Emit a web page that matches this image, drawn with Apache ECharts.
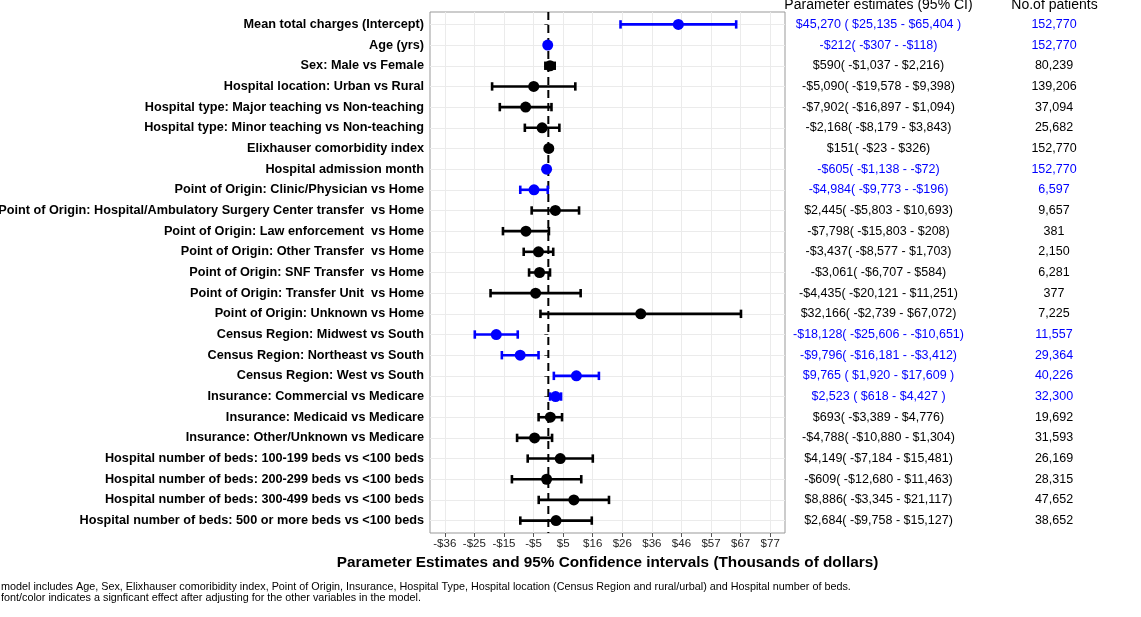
<!DOCTYPE html>
<html>
<head>
<meta charset="utf-8">
<script src="https://cdn.jsdelivr.net/npm/echarts@6/dist/echarts.min.js"></script>
<style>
html,body{margin:0;padding:0;background:#fff;}
#chart{width:1141px;height:617px;}
</style>
</head>
<body>
<div id="chart"></div>
<script>
var categories = [
  "Mean total charges (Intercept)",
  "Age (yrs)",
  "Sex: Male vs Female",
  "Hospital location: Urban vs Rural",
  "Hospital type: Major teaching vs Non-teaching",
  "Hospital type: Minor teaching vs Non-teaching",
  "Elixhauser comorbidity index",
  "Hospital admission month",
  "Point of Origin: Clinic/Physician vs Home",
  "Point of Origin: Hospital/Ambulatory Surgery Center transfer  vs Home",
  "Point of Origin: Law enforcement  vs Home",
  "Point of Origin: Other Transfer  vs Home",
  "Point of Origin: SNF Transfer  vs Home",
  "Point of Origin: Transfer Unit  vs Home",
  "Point of Origin: Unknown vs Home",
  "Census Region: Midwest vs South",
  "Census Region: Northeast vs South",
  "Census Region: West vs South",
  "Insurance: Commercial vs Medicare",
  "Insurance: Medicaid vs Medicare",
  "Insurance: Other/Unknown vs Medicare",
  "Hospital number of beds: 100-199 beds vs <100 beds",
  "Hospital number of beds: 200-299 beds vs <100 beds",
  "Hospital number of beds: 300-499 beds vs <100 beds",
  "Hospital number of beds: 500 or more beds vs <100 beds"
];
// dollars
var estimates = [45270, -212, 590, -5090, -7902, -2168, 151, -605, -4984, 2445, -7798, -3437, -3061, -4435, 32166, -18128, -9796, 9765, 2523, 693, -4788, 4149, -609, 8886, 2684];
var lowerCI = [25135, -307, -1037, -19578, -16897, -8179, -23, -1138, -9773, -5803, -15803, -8577, -6707, -20121, -2739, -25606, -16181, 1920, 618, -3389, -10880, -7184, -12680, -3345, -9758];
var upperCI = [65404, -118, 2216, 9398, 1094, 3843, 326, -72, -196, 10693, 208, 1703, 584, 11251, 67072, -10651, -3412, 17609, 4427, 4776, 1304, 15481, 11463, 21117, 15127];
var patients = [152770, 152770, 80239, 139206, 37094, 25682, 152770, 152770, 6597, 9657, 381, 2150, 6281, 377, 7225, 11557, 29364, 40226, 32300, 19692, 31593, 26169, 28315, 47652, 38652];
var significant = [1, 1, 0, 0, 0, 0, 0, 1, 1, 0, 0, 0, 0, 0, 0, 1, 1, 1, 1, 0, 0, 0, 0, 0, 0];
var ciText = [
  "$45,270 ( $25,135 - $65,404 )",
  "-$212( -$307 - -$118)",
  "$590( -$1,037 - $2,216)",
  "-$5,090( -$19,578 - $9,398)",
  "-$7,902( -$16,897 - $1,094)",
  "-$2,168( -$8,179 - $3,843)",
  "$151( -$23 - $326)",
  "-$605( -$1,138 - -$72)",
  "-$4,984( -$9,773 - -$196)",
  "$2,445( -$5,803 - $10,693)",
  "-$7,798( -$15,803 - $208)",
  "-$3,437( -$8,577 - $1,703)",
  "-$3,061( -$6,707 - $584)",
  "-$4,435( -$20,121 - $11,251)",
  "$32,166( -$2,739 - $67,072)",
  "-$18,128( -$25,606 - -$10,651)",
  "-$9,796( -$16,181 - -$3,412)",
  "$9,765 ( $1,920 - $17,609 )",
  "$2,523 ( $618 - $4,427 )",
  "$693( -$3,389 - $4,776)",
  "-$4,788( -$10,880 - $1,304)",
  "$4,149( -$7,184 - $15,481)",
  "-$609( -$12,680 - $11,463)",
  "$8,886( -$3,345 - $21,117)",
  "$2,684( -$9,758 - $15,127)"
];
// x tick positions (thousands of dollars) and their printed labels
var xTickValues = [-36.05, -25.75, -15.45, -5.15, 5.15, 15.45, 25.75, 36.05, 46.35, 56.65, 66.95, 77.25];
var xTickLabels = ["-$36", "-$25", "-$15", "-$5", "$5", "$16", "$26", "$36", "$46", "$57", "$67", "$77"];
var footnotes = [
  "model includes Age, Sex, Elixhauser comoribidity index, Point of Origin, Insurance, Hospital Type, Hospital location (Census Region and rural/urbal) and Hospital number of beds.",
  "font/color indicates a signficant effect after adjusting for the other variables in the model."
];

var BLUE = '#0000FF';
var FONT = "'Liberation Sans', Arial, Helvetica, sans-serif";
var rows = categories.map(function (_, i) { return i + 1; });
function rowIdx(v) { return Math.round(v) - 1; }
function nearestTick(v) {
  var best = 0, bd = Infinity;
  for (var i = 0; i < xTickValues.length; i++) {
    var d = Math.abs(xTickValues[i] - v);
    if (d < bd) { bd = d; best = i; }
  }
  return xTickLabels[best];
}
function sigColor(v) { return significant[rowIdx(v)] ? BLUE : '#000'; }

var errData = categories.map(function (_, i) {
  return [lowerCI[i] / 1000, upperCI[i] / 1000, i + 1, significant[i]];
});
var pointData = categories.map(function (_, i) {
  return { value: [estimates[i] / 1000, i + 1], itemStyle: { color: significant[i] ? BLUE : '#000', opacity: 1 } };
});

var chart = echarts.init(document.getElementById('chart'), null, { renderer: 'canvas' });
var option = {
  animation: false,
  backgroundColor: '#fff',
  textStyle: { fontFamily: FONT },
  grid: { left: 430, right: 356, top: 12, bottom: 84, show: true, borderColor: '#999', borderWidth: 1, backgroundColor: 'transparent', containLabel: false, outerBoundsMode: 'none' },
  xAxis: {
    type: 'value', min: -41.2, max: 82.4,
    axisLine: { show: false },
    axisTick: { show: true, length: 4, customValues: xTickValues, lineStyle: { color: '#555' } },
    axisLabel: { customValues: xTickValues, formatter: function (v) { return nearestTick(v); }, fontSize: 11.5, color: '#222', margin: 5, fontFamily: FONT },
    splitLine: { show: true, lineStyle: { color: '#EBEBEB', width: 1 } },
    name: 'Parameter Estimates and 95% Confidence intervals (Thousands of dollars)',
    nameLocation: 'middle', nameGap: 19,
    nameTextStyle: { fontWeight: 'bold', fontSize: 15.3, color: '#000', fontFamily: FONT }
  },
  yAxis: [
    {
      type: 'value', min: 0.4, max: 25.6, inverse: true,
      axisLine: { show: false },
      axisTick: { show: true, length: 4, customValues: rows, lineStyle: { color: '#555' } },
      axisLabel: { customValues: rows, formatter: function (v) { return categories[rowIdx(v)]; }, fontWeight: 'bold', fontSize: 12.7, color: '#000', margin: 6, fontFamily: FONT },
      splitLine: { show: true, lineStyle: { color: '#EBEBEB', width: 1 } }
    },
    {
      type: 'value', min: 0.4, max: 25.6, inverse: true, position: 'right', offset: 85.5,
      axisLine: { show: false }, axisTick: { show: false }, splitLine: { show: false },
      axisLabel: { customValues: rows, formatter: function (v) { return ciText[rowIdx(v)]; }, align: 'center', margin: 8, fontSize: 12.5, color: function (v) { return sigColor(v); }, fontFamily: FONT }
    },
    {
      type: 'value', min: 0.4, max: 25.6, inverse: true, position: 'right', offset: 261,
      axisLine: { show: false }, axisTick: { show: false }, splitLine: { show: false },
      axisLabel: { customValues: rows, formatter: function (v) { return patients[rowIdx(v)].toLocaleString('en-US'); }, align: 'center', margin: 8, fontSize: 12.5, color: function (v) { return sigColor(v); }, fontFamily: FONT }
    }
  ],
  series: [
    {
      type: 'line', silent: true, z: 1, symbol: 'none',
      data: [[0, 0.4], [0, 25.6]],
      lineStyle: { color: '#000', width: 2, type: [8, 5] }
    },
    {
      type: 'custom', z: 2, silent: true,
      data: errData,
      encode: { x: [0, 1], y: 2 },
      renderItem: function (params, api) {
        var lo = api.coord([api.value(0), api.value(2)]);
        var hi = api.coord([api.value(1), api.value(2)]);
        var color = api.value(3) ? BLUE : '#000';
        var h = 4.2;
        return {
          type: 'group',
          children: [
            { type: 'line', shape: { x1: lo[0], y1: lo[1], x2: hi[0], y2: hi[1] }, style: { stroke: color, lineWidth: 2.6 } },
            { type: 'line', shape: { x1: lo[0], y1: lo[1] - h, x2: lo[0], y2: lo[1] + h }, style: { stroke: color, lineWidth: 2.6 } },
            { type: 'line', shape: { x1: hi[0], y1: hi[1] - h, x2: hi[0], y2: hi[1] + h }, style: { stroke: color, lineWidth: 2.6 } }
          ]
        };
      }
    },
    {
      type: 'scatter', z: 3, silent: true,
      symbol: 'circle', symbolSize: 11,
      itemStyle: { opacity: 1 },
      data: pointData
    }
  ],
  graphic: [
    { type: 'text', x: 878.5, y: 5, style: { text: 'Parameter estimates (95% CI)', font: '14px ' + FONT, fill: '#000', align: 'center', verticalAlign: 'middle' } },
    { type: 'text', x: 1054.5, y: 5, style: { text: 'No.of patients', font: '14px ' + FONT, fill: '#000', align: 'center', verticalAlign: 'middle' } },
    { type: 'text', x: 1, y: 587, style: { text: footnotes[0], font: '10.8px ' + FONT, fill: '#000', align: 'left', verticalAlign: 'middle' } },
    { type: 'text', x: 1, y: 598, style: { text: footnotes[1], font: '10.8px ' + FONT, fill: '#000', align: 'left', verticalAlign: 'middle' } }
  ]
};
chart.setOption(option);
</script>
</body>
</html>
